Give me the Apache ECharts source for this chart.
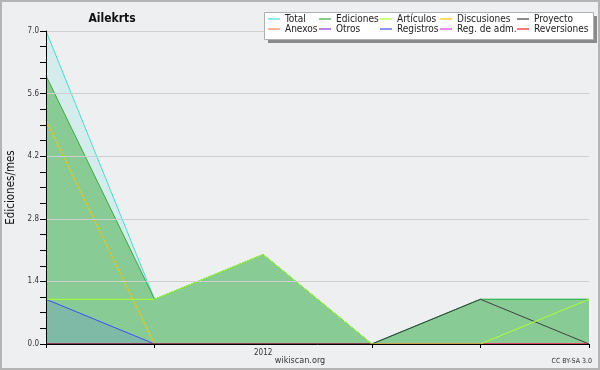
<!DOCTYPE html>
<html><head><meta charset="utf-8">
<script src="https://cdn.jsdelivr.net/npm/echarts@6/dist/echarts.min.js"></script>
<style>html,body{margin:0;padding:0;background:#eeeff1}#c{width:600px;height:370px}</style>
</head><body><div id="c"></div>
<script>
const tickLabels = ['', '', '2012', '', '', ''];
const total = [7, 1, 2, 0, 1, 1];
const ediciones = [6, 1, 2, 0, 1, 1];
const articulos = [1, 1, 2, 0, 0, 1];
const discusiones = [5, 0, 0, 0, 0, 0];
const proyecto = [0, 0, 0, 0, 1, 0];
const anexos = [0, 0, 0, 0, 0, 0];
const otros = [0, 0, 0, 0, 0, 0];
const registros = [1, 0, 0, 0, 0, 0];
const regAdm = [0, 0, 0, 0, 0, 0];
const reversiones = [0, 0, 0, 0, 0, 0];
const yTicks = [0, 1.4, 2.8, 4.2, 5.6, 7.0];

const FONT = 'DejaVu Sans Condensed';
const chart = echarts.init(document.getElementById('c'));
function s(name, data, color, area) {
  const o = {name, type: 'line', data, symbol: 'none', lineStyle: {color, width: 1}, itemStyle: {color}, animation: false};
  if (area) o.areaStyle = {color: area, opacity: 1};
  return o;
}
const legendCols = [[['Total','Anexos'],268],[['Ediciones','Otros'],319],[['Artículos','Registros'],380],[['Discusiones','Reg. de adm.'],440],[['Proyecto','Reversiones'],517]];
chart.setOption({
  backgroundColor: '#eeeff1',
  animation: false,
  title: {text: 'Ailekrts', left: 107, top: 8, textAlign: 'center', textStyle: {fontFamily: FONT, fontSize: 12, fontWeight: 'bold', color: '#111'}},
  graphic: [
    {type: 'rect', shape: {x: 1, y: 1, width: 598, height: 368}, style: {fill: 'none', stroke: '#b4b4b4', lineWidth: 2}, z: 0},
    {type: 'rect', shape: {x: 268, y: 16, width: 329, height: 27}, style: {fill: '#8a8a8a'}, z: 20},
    {type: 'rect', shape: {x: 264.5, y: 12.5, width: 329, height: 27}, style: {fill: '#ffffff', stroke: '#b0b0b0', lineWidth: 1}, z: 21},
    {type: 'text', left: 'center', top: 356, style: {text: 'wikiscan.org', font: '9px "DejaVu Sans Condensed"', fill: '#333'}, z: 5},
    {type: 'text', right: 8, top: 358, style: {text: 'CC BY-SA 3.0', font: '7px "DejaVu Sans Condensed"', fill: '#333'}, z: 5}
  ],
  legend: legendCols.map(([names, x]) => ({
    data: names.map(n => ({name: n, icon: 'rect'})), orient: 'vertical', left: x, top: 13, itemGap: -2, itemWidth: 12, itemHeight: 1.2,
    padding: 0, selectedMode: false, z: 25,
    textStyle: {fontFamily: FONT, fontSize: 10, color: '#222', lineHeight: 12, padding: 0}
  })),
  grid: {left: 46, right: 11, top: 31, bottom: 26, outerBoundsMode: 'none', containLabel: false},
  xAxis: {
    type: 'category', data: tickLabels, boundaryGap: false, z: 10,
    axisLine: {lineStyle: {color: '#000', width: 1}},
    axisTick: {show: true, length: 4, lineStyle: {color: '#000'}, interval: (i) => i !== 2},
    axisLabel: {interval: 0, fontFamily: FONT, fontSize: 8, color: '#333', margin: 5},
    splitLine: {show: false}
  },
  yAxis: {
    type: 'value', min: yTicks[0], max: yTicks[yTicks.length - 1], interval: 1.4, z: 10,
    name: 'Ediciones/mes', nameLocation: 'middle', nameGap: 28, nameRotate: 90,
    nameTextStyle: {fontFamily: FONT, fontSize: 11.5, color: '#111'},
    axisLine: {show: true, lineStyle: {color: '#000', width: 1}},
    axisTick: {show: true, length: 6, lineStyle: {color: '#000'}},
    minorTick: {show: true, splitNumber: 4, length: 6, lineStyle: {color: '#000'}},
    axisLabel: {fontFamily: FONT, fontSize: 8, color: '#333', margin: 7, formatter: (v) => v.toFixed(1)},
    splitLine: {show: true, lineStyle: {color: '#cfcfcf', width: 1}}
  },
  series: [
    s('Total', total, '#40e0d0', 'rgba(64,224,208,0.15)'),
    s('Ediciones', ediciones, '#3aaa3a', 'rgba(60,170,60,0.5)'),
    s('Anexos', anexos, '#ff7f50'),
    s('Otros', otros, '#8a2be2'),
    s('Registros', registros, '#3c4cff', 'rgba(90,110,255,0.18)'),
    s('Discusiones', discusiones, '#f5c400'),
    s('Reg. de adm.', regAdm, '#d040e0'),
    s('Reversiones', reversiones, '#ff2020'),
    s('Proyecto', proyecto, '#404040'),
    s('Artículos', articulos, '#adff2f')
  ]
});
</script></body></html>
